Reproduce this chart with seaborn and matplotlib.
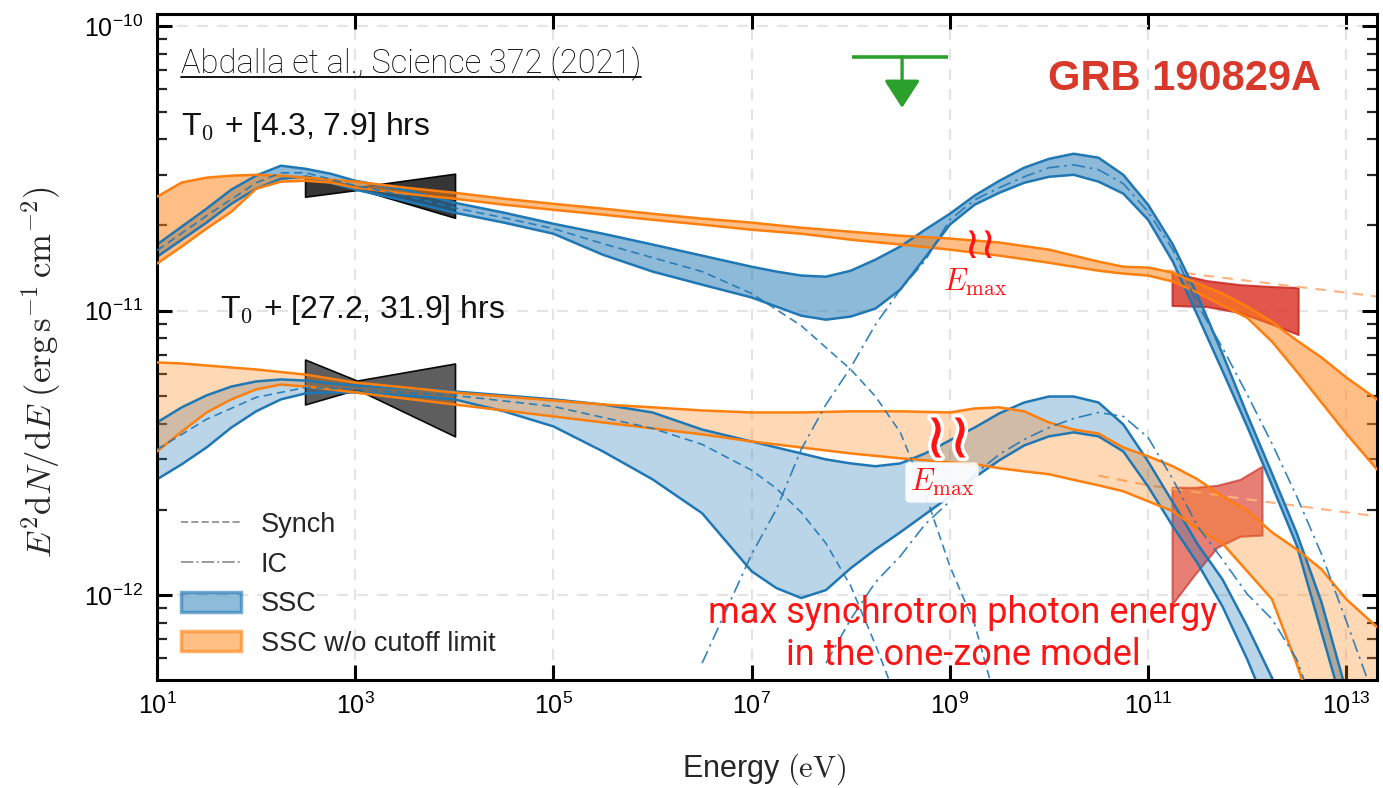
import numpy as np
import matplotlib
matplotlib.use('Agg')
import matplotlib.pyplot as plt
import seaborn as sns
import matplotlib.patheffects as pe
from matplotlib.lines import Line2D
from matplotlib.patches import Patch
from matplotlib.ticker import NullLocator, NullFormatter, LogLocator

# All values are log10(E / eV) and log10(E^2 dN/dE / erg s^-1 cm^-2)

# --- T0 + [4.3, 7.9] hrs : SSC model (blue band)
ub_logE = [1.0, 1.25, 1.5, 1.75, 2.0, 2.25, 2.5, 2.75, 3.0, 3.5, 4.0, 4.5, 5.0, 5.5, 6.0, 6.5, 7.0,
           7.25, 7.5, 7.75, 8.0, 8.25, 8.5, 8.75, 9.0, 9.25, 9.5, 9.75, 10.0, 10.25, 10.5, 10.75, 11.0,
           11.25, 11.5, 11.75, 12.0, 12.25, 12.5, 12.75, 13.0]
ub_hi = [-10.768, -10.705, -10.642, -10.575, -10.526, -10.491, -10.502, -10.519, -10.544, -10.575, -10.621,
         -10.656, -10.695, -10.730, -10.768, -10.807, -10.846, -10.863, -10.877, -10.881, -10.860, -10.821,
         -10.775, -10.716, -10.660, -10.596, -10.544, -10.498, -10.467, -10.449, -10.463, -10.523, -10.628,
         -10.768, -10.947, -11.151, -11.365, -11.572, -11.782, -12.025, -12.337]
ub_lo = [-10.811, -10.751, -10.691, -10.625, -10.572, -10.537, -10.530, -10.551, -10.575, -10.614, -10.656,
         -10.691, -10.730, -10.804, -10.863, -10.909, -10.954, -10.986, -11.018, -11.032, -11.021, -10.993,
         -10.926, -10.814, -10.698, -10.628, -10.586, -10.551, -10.530, -10.523, -10.547, -10.589, -10.681,
         -10.828, -11.018, -11.211, -11.407, -11.614, -11.825, -12.130, -12.435]

# synchrotron and inverse Compton components of the SSC model
us_logE = [1.0, 1.5, 2.0, 2.25, 2.5, 3.0, 3.5, 4.0, 4.5, 5.0, 5.5, 6.0, 6.5, 7.0, 7.5, 8.0, 8.25, 8.5,
           8.75, 9.0, 9.25, 9.5]
us_flux = [-10.789, -10.667, -10.551, -10.516, -10.516, -10.561, -10.596, -10.639, -10.674, -10.712, -10.765,
           -10.814, -10.863, -10.940, -11.053, -11.207, -11.302, -11.428, -11.642, -11.898, -12.102, -12.418]
ui_logE = [6.5, 7.0, 7.25, 7.5, 7.75, 8.0, 8.25, 8.5, 8.75, 9.0, 9.25, 9.5, 9.75, 10.0, 10.25, 10.5, 10.75,
           11.0, 11.25, 11.5, 11.75, 12.0, 12.25, 12.5, 12.75, 13.0, 13.25]
ui_flux = [-12.239, -11.856, -11.698, -11.488, -11.330, -11.200, -11.049, -10.926, -10.825, -10.681, -10.611,
           -10.568, -10.530, -10.498, -10.488, -10.505, -10.554, -10.653, -10.786, -10.979, -11.130, -11.295,
           -11.467, -11.653, -11.856, -12.091, -12.330]

# SSC without cutoff limit (orange band)
uo_logE = [1.0, 1.25, 1.5, 1.75, 2.0, 2.25, 2.5, 2.75, 3.0, 3.5, 4.0, 4.5, 5.0, 5.5, 6.0, 6.5, 7.0, 7.5,
           8.0, 8.5, 9.0, 9.5, 10.0, 10.5, 10.75, 11.0, 11.25, 11.5, 11.75, 12.0, 12.25, 12.5, 12.75, 13.0, 13.31]
uo_hi = [-10.600, -10.550, -10.533, -10.526, -10.523, -10.526, -10.533, -10.540, -10.547, -10.568, -10.586,
         -10.607, -10.625, -10.642, -10.660, -10.677, -10.691, -10.709, -10.723, -10.737, -10.747, -10.761,
         -10.786, -10.828, -10.846, -10.849, -10.867, -10.905, -10.940, -10.986, -11.039, -11.105, -11.165,
         -11.235, -11.312]
uo_lo = [-10.835, -10.775, -10.712, -10.653, -10.572, -10.547, -10.544, -10.550, -10.568, -10.589, -10.607,
         -10.628, -10.646, -10.663, -10.681, -10.698, -10.716, -10.730, -10.751, -10.768, -10.786, -10.807,
         -10.832, -10.860, -10.870, -10.877, -10.898, -10.937, -10.982, -11.025, -11.109, -11.214, -11.323,
         -11.432, -11.558]
uod_logE = [11.0, 11.5, 12.0, 12.5, 13.0, 13.31]
uod_flux = [-10.849, -10.874, -10.895, -10.916, -10.937, -10.951]

# --- T0 + [27.2, 31.9] hrs
lb_logE = [1.0, 1.25, 1.5, 1.75, 2.0, 2.25, 2.5, 2.75, 3.0, 3.5, 4.0, 4.5, 5.0, 5.5, 6.0, 6.5, 7.0,
           7.25, 7.5, 7.75, 8.0, 8.25, 8.5, 8.75, 9.0, 9.25, 9.5, 9.75, 10.0, 10.25, 10.5, 10.75, 11.0,
           11.25, 11.5, 11.75, 12.0, 12.25, 12.5]
lb_hi = [-11.393, -11.340, -11.298, -11.267, -11.249, -11.242, -11.246, -11.256, -11.263, -11.274, -11.284,
         -11.298, -11.312, -11.330, -11.358, -11.418, -11.460, -11.481, -11.502, -11.523, -11.537, -11.547,
         -11.537, -11.502, -11.456, -11.411, -11.361, -11.323, -11.302, -11.302, -11.323, -11.400, -11.530,
         -11.674, -11.821, -11.944, -12.109, -12.290, -12.470]
lb_lo = [-11.593, -11.540, -11.481, -11.411, -11.354, -11.312, -11.291, -11.288, -11.288, -11.298, -11.312,
         -11.354, -11.407, -11.495, -11.593, -11.712, -11.916, -11.975, -12.010, -11.982, -11.905, -11.839,
         -11.779, -11.716, -11.653, -11.586, -11.526, -11.474, -11.442, -11.428, -11.442, -11.495, -11.618,
         -11.758, -11.888, -12.039, -12.225, -12.435, -12.650]
ls_logE = [1.0, 1.5, 2.0, 2.5, 3.0, 4.0, 5.0, 6.0, 6.5, 7.0, 7.25, 7.5, 7.75, 8.0, 8.25, 8.5]
ls_flux = [-11.488, -11.382, -11.305, -11.270, -11.277, -11.298, -11.337, -11.414, -11.470, -11.561,
           -11.625, -11.709, -11.818, -11.968, -12.175, -12.400]
li_logE = [7.75, 8.0, 8.25, 8.5, 8.75, 9.0, 9.25, 9.5, 9.75, 10.0, 10.25, 10.5, 10.75, 11.0, 11.25, 11.5,
           11.75, 12.0, 12.25, 12.5, 12.75]
li_flux = [-12.239, -12.084, -11.954, -11.863, -11.751, -11.670, -11.575, -11.505, -11.453, -11.411, -11.379,
           -11.358, -11.372, -11.446, -11.593, -11.758, -11.874, -11.996, -12.084, -12.225, -12.470]
lo_logE = [1.0, 1.25, 1.5, 1.75, 2.0, 2.25, 2.5, 2.75, 3.0, 3.5, 4.0, 4.5, 5.0, 5.5, 6.0, 6.5, 7.0, 7.5,
           8.0, 8.5, 9.0, 9.25, 9.5, 9.75, 10.0, 10.25, 10.5, 10.75, 11.0, 11.25, 11.5, 11.75, 12.0, 12.25,
           12.5, 12.75, 13.0, 13.31]
lo_hi = [-11.182, -11.186, -11.193, -11.200, -11.207, -11.216, -11.225, -11.239, -11.253, -11.270, -11.288,
         -11.302, -11.316, -11.330, -11.340, -11.351, -11.358, -11.358, -11.354, -11.354, -11.358, -11.344,
         -11.340, -11.354, -11.393, -11.418, -11.432, -11.481, -11.512, -11.547, -11.593, -11.653, -11.702,
         -11.779, -11.839, -11.909, -12.014, -12.112]
lo_lo = [-11.495, -11.425, -11.358, -11.312, -11.277, -11.260, -11.267, -11.277, -11.288, -11.309, -11.330,
         -11.351, -11.372, -11.393, -11.414, -11.435, -11.460, -11.481, -11.502, -11.519, -11.533, -11.540,
         -11.554, -11.565, -11.575, -11.595, -11.614, -11.635, -11.670, -11.705, -11.768, -11.818, -11.916,
         -12.014, -12.242, -12.500, -12.750, -13.000]
lod_logE = [10.5, 11.0, 12.0, 13.0, 13.31]
lod_flux = [-11.580, -11.614, -11.663, -11.709, -11.723]

# X-ray butterflies (black)
xr1_logE = [2.494, 3.048, 4.007]
xr1_hi = [-10.526, -10.565, -10.519]
xr1_lo = [-10.600, -10.575, -10.674]
xr2_logE = [2.494, 3.018, 4.007]
xr2_hi = [-11.172, -11.246, -11.186]
xr2_lo = [-11.330, -11.277, -11.442]

# H.E.S.S. butterflies (red)
hs1_logE = [11.242, 11.595, 11.928, 12.261, 12.514]
hs1_hi = [-10.867, -10.895, -10.909, -10.916, -10.919]
hs1_lo = [-10.982, -10.986, -11.007, -11.049, -11.084]
hs2_logE = [11.242, 11.474, 11.696, 11.928, 12.150]
hs2_hi = [-11.621, -11.621, -11.614, -11.593, -11.547]
hs2_lo = [-12.032, -11.926, -11.832, -11.793, -11.789]

# Fermi-LAT upper limit (green)
ul_logE_lo, ul_logE_hi, ul_logE = 8.013, 8.982, 8.518
ul_flux, ul_tip = -10.109, -10.288

x_tick_exps = [1, 3, 5, 7, 9, 11, 13]
y_tick_exps = [-12, -11, -10]
legend_labels = ['Synch', 'IC', 'SSC', 'SSC w/o cutoff limit']

BLUE = '#1f77b4'
ORANGE = '#ff7f0e'
RED = '#ff1414'

sns.set_style('ticks')
plt.rcParams['font.family'] = ['Liberation Sans', 'DejaVu Sans']
plt.rcParams['mathtext.fontset'] = 'custom'
plt.rcParams['mathtext.rm'] = 'Liberation Sans'
plt.rcParams['mathtext.it'] = 'Liberation Sans:italic'
plt.rcParams['mathtext.bf'] = 'Liberation Sans:bold'

fig = plt.figure(figsize=(13.83, 7.88), dpi=100)
ax = fig.add_axes([157 / 1383, 1 - 680 / 788, 1220 / 1383, 666 / 788])
ax.set_xscale('log')
ax.set_yscale('log')


def p(v):
    return 10.0 ** np.asarray(v)


def band(logE, lo, hi, color, alpha, z):
    ax.fill_between(p(logE), p(lo), p(hi), color=color, alpha=alpha, lw=0, zorder=z)
    for edge in (lo, hi):
        sns.lineplot(x=p(logE), y=p(edge), ax=ax, color=color, lw=1.8, zorder=z + 0.5,
                     estimator=None, sort=False)


def comp(logE, flux, color, style, lw=1.2, alpha=0.9, z=3.5):
    sns.lineplot(x=p(logE), y=p(flux), ax=ax, color=color, lw=lw, alpha=alpha, linestyle=style,
                 zorder=z, estimator=None, sort=False)


# butterflies below the models
for le, lo, hi, fc in [(xr1_logE, xr1_lo, xr1_hi, '#2b2b2b'), (xr2_logE, xr2_lo, xr2_hi, '#555555')]:
    ax.fill_between(p(le), p(lo), p(hi), facecolor=fc, alpha=0.95, edgecolor='black', lw=1.2, zorder=1.5)
for le, lo, hi, a in [(hs1_logE, hs1_lo, hs1_hi, 0.85), (hs2_logE, hs2_lo, hs2_hi, 0.65)]:
    ax.fill_between(p(le), p(lo), p(hi), facecolor='#dc3a2c', alpha=a, edgecolor='#c62a22', lw=1.5, zorder=1.5)

# upper epoch
band(ub_logE, ub_lo, ub_hi, BLUE, 0.5, 2)
band(uo_logE, uo_lo, uo_hi, ORANGE, 0.5, 2.2)
comp(us_logE, us_flux, BLUE, (0, (5, 3)))
comp(ui_logE, ui_flux, BLUE, (0, (8, 3, 1.5, 3)))
comp(uod_logE, uod_flux, '#ffb27f', (0, (5, 4)), lw=1.5, alpha=1.0, z=1.8)

# lower epoch
band(lb_logE, lb_lo, lb_hi, BLUE, 0.3, 2)
band(lo_logE, lo_lo, lo_hi, ORANGE, 0.3, 2.2)
comp(ls_logE, ls_flux, BLUE, (0, (5, 3)))
comp(li_logE, li_flux, BLUE, (0, (8, 3, 1.5, 3)))
comp(lod_logE, lod_flux, '#ffb27f', (0, (5, 4)), lw=1.5, alpha=1.0, z=1.8)

# upper limit
GREEN = '#2ca02c'
ax.hlines(p(ul_flux), p(ul_logE_lo), p(ul_logE_hi), color=GREEN, lw=2.6, zorder=4)
ax.annotate('', xy=(p(ul_logE), p(ul_tip)), xytext=(p(ul_logE), p(ul_flux)),
            arrowprops=dict(arrowstyle='-|>,head_length=0.85,head_width=0.55', color=GREEN, lw=2.4,
                            mutation_scale=20, shrinkA=0, shrinkB=0), zorder=4)

# axes
ax.set_xlim(10, 10 ** 13.31)
ax.set_ylim(10 ** -12.298, 10 ** -9.958)
ax.set_xticks([10.0 ** k for k in x_tick_exps])
ax.set_yticks([10.0 ** k for k in y_tick_exps])
ax.xaxis.set_minor_locator(NullLocator())
ax.yaxis.set_minor_locator(LogLocator(base=10, subs=np.arange(2, 10), numticks=20))
ax.yaxis.set_minor_formatter(NullFormatter())
ax.tick_params(which='major', direction='in', length=11, width=2.2, top=True, right=True,
               labelsize=18, colors='black')
ax.tick_params(axis='x', which='major', pad=9)
ax.tick_params(axis='y', which='major', pad=10)
ax.tick_params(which='minor', direction='in', length=7, width=1.6, top=True, right=True)
for s in ax.spines.values():
    s.set_linewidth(2.2)
    s.set_color('black')
ax.grid(True, which='major', ls=(0, (5, 4)), color='#e4e4e4', lw=1.6)
ax.set_axisbelow(True)

ax.set_xlabel(r'Energy $(\mathrm{eV})$', fontsize=22, math_fontfamily='cm')
ax.xaxis.set_label_coords(0.4975, -0.108)
ax.set_ylabel(r'$E^2\mathrm{d}N/\mathrm{d}E\;(\mathrm{erg\,s^{-1}\,cm^{-2}})$', fontsize=25,
              math_fontfamily='cm')
ax.yaxis.set_label_coords(-0.077, 0.4625)

# annotations
ref = ax.text(0.0197, 0.911, 'Abdalla et al., Science 372 (2021)', transform=ax.transAxes,
              fontsize=23.5, family=['Roboto', 'DejaVu Sans'], fontweight='light', color='black')
ax.text(0.0197, 0.818, r'T$_0$ + [4.3, 7.9] hrs', transform=ax.transAxes, fontsize=23,
        math_fontfamily='cm', color='#111111')
ax.text(0.0516, 0.5435, r'T$_0$ + [27.2, 31.9] hrs', transform=ax.transAxes, fontsize=23,
        math_fontfamily='cm', color='#111111')
ax.text(0.954, 0.886, 'GRB 190829A', transform=ax.transAxes, ha='right', fontsize=30,
        fontweight='bold', color='#d8392b')
ax.text(0.6607, 0.0856, 'max synchrotron photon energy', transform=ax.transAxes, ha='center',
        fontsize=26, family=['Roboto', 'DejaVu Sans'], fontweight='normal', color=RED, zorder=6)
ax.text(0.6607, 0.0225, 'in the one-zone model', transform=ax.transAxes, ha='center',
        fontsize=26, family=['Roboto', 'DejaVu Sans'], fontweight='normal', color=RED, zorder=6)

ax.text(10 ** 9.254, 10 ** -10.90, r'$E_{\rm max}$', ha='center', va='center', fontsize=22,
        color=RED, math_fontfamily='cm', zorder=6)
ax.text(10 ** 8.921, 10 ** -11.604, r'$E_{\rm max}$', ha='center', va='center', fontsize=22,
        color=RED, math_fontfamily='cm', zorder=6,
        bbox=dict(boxstyle='round,pad=0.15', fc='white', ec='none', alpha=0.9))
ax.text(10 ** 9.305, 10 ** -10.770, '\u2240\u2240', ha='center', va='center', fontsize=32,
        color=RED, family='DejaVu Sans', zorder=6)
ax.text(10 ** 8.982, 10 ** -11.453, '\u2240\u2240', ha='center', va='center', fontsize=46,
        color=RED, family='DejaVu Sans', zorder=6,
        path_effects=[pe.Stroke(linewidth=5, foreground='white'), pe.Normal()])

# legend
handles = [Line2D([], [], color='#9a9a9a', ls='--', lw=1.4),
           Line2D([], [], color='#9a9a9a', ls='-.', lw=1.4),
           Patch(facecolor=(0.12, 0.47, 0.71, 0.5), edgecolor=(0.12, 0.47, 0.71, 0.6), lw=2.5),
           Patch(facecolor=(1.0, 0.5, 0.05, 0.5), edgecolor=(1.0, 0.5, 0.05, 0.6), lw=2.5)]
ax.legend(handles, legend_labels, loc='lower left', bbox_to_anchor=(0.0197, 0.035), frameon=False,
          fontsize=19.5, handlelength=2.2, handleheight=0.75, handletextpad=0.75, labelspacing=0.5,
          borderpad=0, borderaxespad=0)

# underline the reference
fig.canvas.draw()
bb = ref.get_window_extent()
inv = ax.transAxes.inverted()
ux0 = inv.transform((bb.x0, bb.y0))[0]
ux1 = inv.transform((bb.x1, bb.y0))[0]
ax.plot([ux0, ux1], [0.906, 0.906], transform=ax.transAxes, color='black', lw=1.3, clip_on=False)

fig.savefig('out.png', dpi=100)
